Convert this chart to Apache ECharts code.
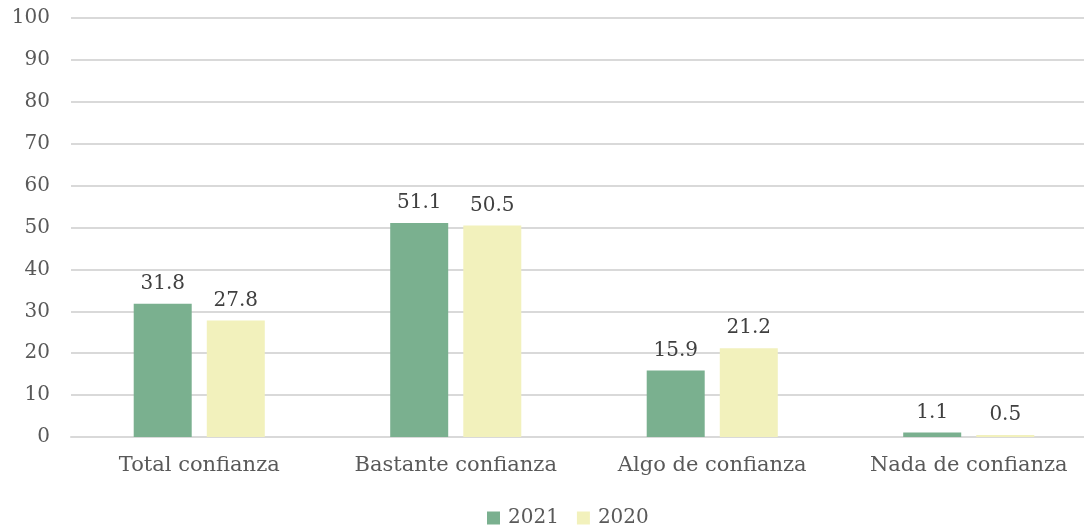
<!DOCTYPE html>
<html><head><meta charset="utf-8">
<script src="https://cdn.jsdelivr.net/npm/echarts@6/dist/echarts.min.js"></script>
<style>html,body{margin:0;padding:0;background:#fff}#c{width:1084px;height:527px}</style>
</head><body><div id="c"></div>
<script>
const categories = ["Total confianza", "Bastante confianza", "Algo de confianza", "Nada de confianza"];
const values2021 = [31.8, 51.1, 15.9, 1.1];
const values2020 = [27.8, 50.5, 21.2, 0.5];
const FONT = "DejaVu Serif";
const chart = echarts.init(document.getElementById('c'));
chart.setOption({
  animation: false,
  textStyle: {fontFamily: FONT},
  grid: {left: 71, top: 18, bottom: 90, width: 1026, outerBoundsMode: 'none', containLabel: false},
  legend: {left: 482, bottom: -6, icon: 'rect', itemWidth: 13, itemHeight: 13, itemGap: 18,
    textStyle: {fontFamily: FONT, fontSize: 20, color: '#595959', padding: [0, 0, 0, 3]},
    data: ['2021', '2020']},
  xAxis: {type: 'category', data: categories,
    axisLine: {show: true, lineStyle: {color: '#d9d9d9', width: 2}},
    axisTick: {show: false},
    axisLabel: {interval: 0, fontFamily: FONT, fontSize: 21, color: '#595959', margin: 18}},
  yAxis: {type: 'value', min: 0, max: 100, interval: 10,
    axisLine: {show: false}, axisTick: {show: false},
    splitLine: {lineStyle: {color: '#d9d9d9', width: 2}},
    axisLabel: {fontFamily: FONT, fontSize: 20, color: '#595959', margin: 21}},
  series: [
    {name: '2021', type: 'bar', data: values2021, barWidth: 58, barGap: '26%',
     itemStyle: {color: '#7AB08F'},
     label: {show: true, position: 'top', distance: 10, fontFamily: FONT, fontSize: 20, color: '#404040'}},
    {name: '2020', type: 'bar', data: values2020, barWidth: 58,
     itemStyle: {color: '#F2F1BC'},
     label: {show: true, position: 'top', distance: 10, fontFamily: FONT, fontSize: 20, color: '#404040'}}
  ]
});
</script></body></html>
